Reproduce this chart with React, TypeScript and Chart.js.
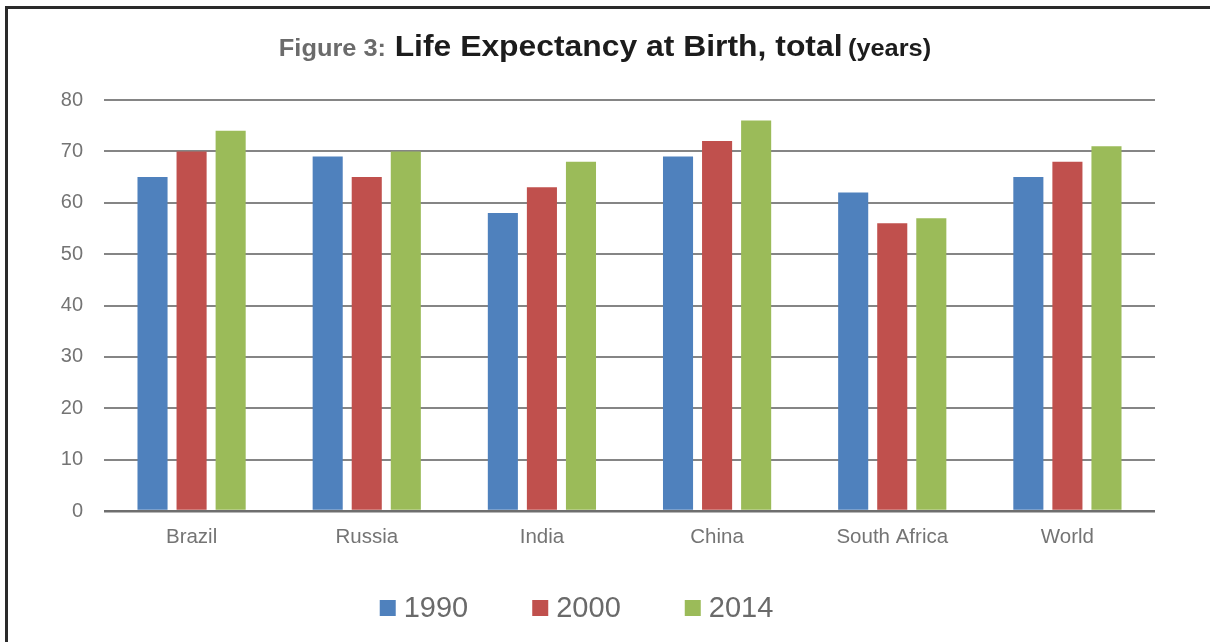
import React, { useEffect, useRef } from "react";
import { Chart, registerables } from "chart.js";

Chart.register(...registerables);

const categories = ["Brazil", "Russia", "India", "China", "South Africa", "World"];
const seriesLabels = ["1990", "2000", "2014"];
const values1990 = [65, 69, 58, 69, 62, 65];
const values2000 = [70, 65, 63, 72, 56, 68];
const values2014 = [74, 70, 68, 76, 57, 71];
const seriesColors = ["#4F81BD", "#C0504D", "#9BBB59"];
const yTicks = [0, 10, 20, 30, 40, 50, 60, 70, 80];
const titlePrefix = "Figure 3:";
const titleMain = "Life Expectancy at Birth, total";
const titleSuffix = "(years)";

const FONT = "'Liberation Sans', Arial, Helvetica, sans-serif";

const decorPlugin = {
  id: "decor",
  beforeDraw(chart: any) {
    const ctx = chart.ctx;
    ctx.save();
    ctx.fillStyle = "#ffffff";
    ctx.fillRect(0, 0, chart.width, chart.height);
    ctx.restore();
  },
  afterDraw(chart: any) {
    const ctx = chart.ctx;
    ctx.save();
    // frame
    ctx.fillStyle = "#2a2a2a";
    ctx.fillRect(5, 6, chart.width - 5, 3);
    ctx.fillRect(5, 6, 3, chart.height - 6);

    // title (mixed styles)
    const parts = [
      { text: titlePrefix, font: `bold 23.5px ${FONT}`, color: "#6b6b6b", gap: 8 },
      { text: titleMain, font: `bold 29.5px ${FONT}`, color: "#1c1c1c", gap: 5 },
      { text: titleSuffix, font: `bold 23.5px ${FONT}`, color: "#1c1c1c", gap: 0 },
    ];
    const sx = 1.08;
    let total = 0;
    const widths: number[] = [];
    parts.forEach((p) => {
      ctx.font = p.font;
      const w = ctx.measureText(p.text).width;
      widths.push(w);
      total += w + p.gap;
    });
    ctx.translate(chart.width / 2, 0);
    ctx.scale(sx, 1);
    let x = -total / 2;
    ctx.textBaseline = "alphabetic";
    ctx.textAlign = "left";
    parts.forEach((p, i) => {
      ctx.font = p.font;
      ctx.fillStyle = p.color;
      ctx.fillText(p.text, x, 56);
      x += widths[i] + p.gap;
    });
    ctx.restore();

    // legend
    ctx.save();
    const box = 16;
    const legendFont = `29px ${FONT}`;
    ctx.font = legendFont;
    ctx.textBaseline = "middle";
    ctx.textAlign = "left";
    const itemGap = 64;
    const textGap = 8;
    const items = chart.data.datasets.map((d: any) => ({
      label: d.label,
      color: d.backgroundColor,
      w: box + textGap + ctx.measureText(d.label).width,
    }));
    const legendWidth =
      items.reduce((s: number, it: any) => s + it.w, 0) + itemGap * (items.length - 1);
    const area = chart.chartArea;
    const cx = (area.left + area.right) / 2 - 53;
    let lx = cx - legendWidth / 2;
    const ly = 608;
    items.forEach((it: any) => {
      ctx.fillStyle = it.color;
      ctx.fillRect(lx, ly - box / 2, box, box);
      ctx.fillStyle = "#6a6a6a";
      ctx.fillText(it.label, lx + box + textGap, ly + 1);
      lx += it.w + itemGap;
    });
    ctx.restore();
  },
};

export default function App() {
  const ref = useRef<HTMLCanvasElement | null>(null);

  useEffect(() => {
    if (!ref.current) return;
    const seriesValues = [values1990, values2000, values2014];
    const chart = new Chart(ref.current, {
      type: "bar",
      data: {
        labels: categories,
        datasets: seriesLabels.map((label, i) => ({
          label,
          data: seriesValues[i],
          backgroundColor: seriesColors[i],
          borderWidth: 0,
          categoryPercentage: 0.669,
          barPercentage: 0.77,
        })),
      },
      options: {
        animation: false,
        responsive: false,
        maintainAspectRatio: false,
        events: [],
        layout: { padding: { left: 0, right: 55, top: 100, bottom: 71 } },
        plugins: {
          legend: { display: false },
          title: { display: false },
          tooltip: { enabled: false },
        },
        scales: {
          x: {
            grid: { display: false, drawTicks: false },
            border: { display: false },
            ticks: {
              color: "#747474",
              font: { family: FONT, size: 20.5 },
              padding: 14,
              maxRotation: 0,
              autoSkip: false,
            },
            afterFit: (s: any) => {
              s.height = 60;
            },
          },
          y: {
            min: yTicks[0],
            max: yTicks[yTicks.length - 1],
            afterBuildTicks: (s: any) => {
              s.ticks = yTicks.map((v) => ({ value: v }));
            },
            grid: {
              drawTicks: false,
              color: (c: any) => (c.tick && c.tick.value === 0 ? "#6e6e6e" : "#858585"),
              lineWidth: (c: any) => (c.tick && c.tick.value === 0 ? 2.5 : 2),
            },
            border: { display: false },
            ticks: {
              color: "#747474",
              font: { family: FONT, size: 20 },
              padding: 21,
            },
            afterFit: (s: any) => {
              s.width = 104;
            },
          },
        },
      },
      plugins: [decorPlugin],
    });
    return () => chart.destroy();
  }, []);

  return (
    <div
      style={{
        position: "fixed",
        left: 0,
        top: 0,
        width: 1210,
        height: 642,
        background: "#ffffff",
      }}
    >
      <canvas ref={ref} width={1210} height={642} style={{ width: 1210, height: 642, display: "block" }} />
    </div>
  );
}
